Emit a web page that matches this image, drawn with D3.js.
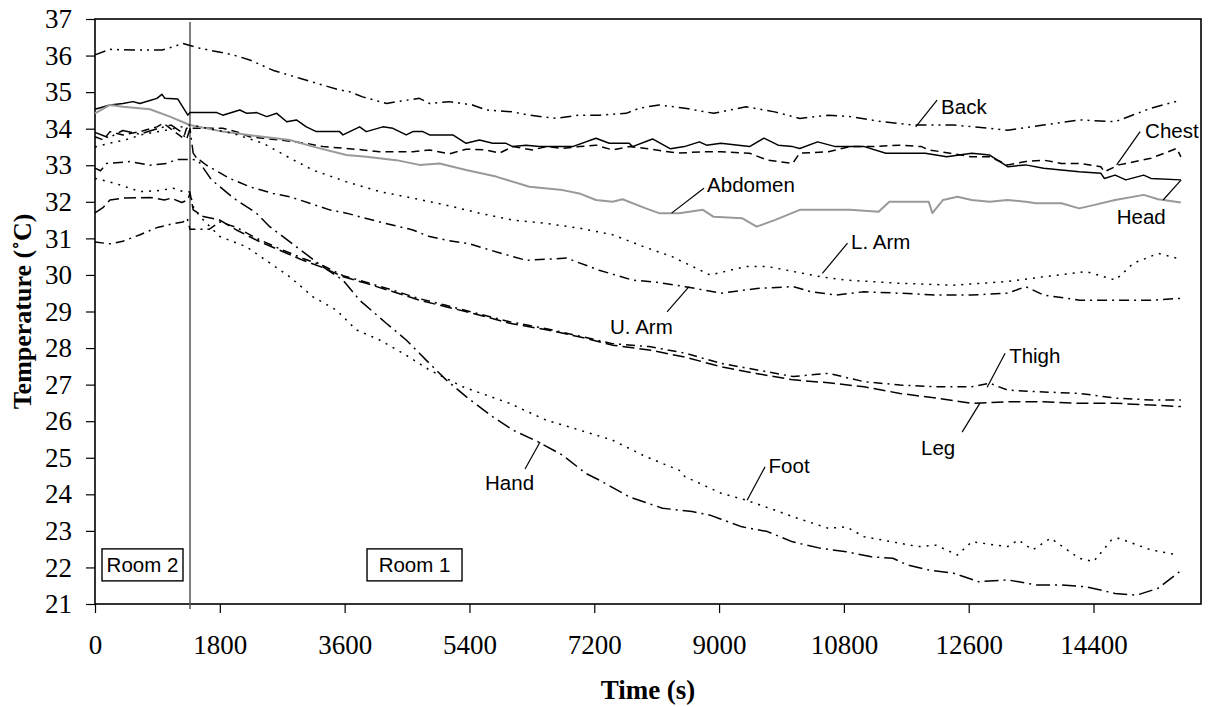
<!DOCTYPE html>
<html>
<head>
<meta charset="utf-8">
<script src="https://cdn.jsdelivr.net/npm/d3@7"></script>
<style>
  body { margin: 0; background: #fff; }
  text { fill: #000; }
</style>
</head>
<body>
<svg id="chart"></svg>
<script>
const width = 1209;
const height = 707;
const margin = { top: 19, right: 8, bottom: 103, left: 95 };

// time (s), temperature (deg C)
const back = [[0,36.02],[216,36.17],[547,36.15],[965,36.15],[1123,36.24],[1267,36.33],[1512,36.2],[1987,36.02],[2232,35.88],[2563,35.6],[2952,35.38],[3197,35.24],[3528,35.06],[3672,35.01],[3859,34.87],[4205,34.69],[4493,34.78],[4680,34.83],[4824,34.69],[5112,34.74],[5443,34.65],[5645,34.51],[6019,34.46],[6264,34.37],[6653,34.28],[6984,34.37],[7272,34.37],[7661,34.42],[7848,34.56],[8136,34.65],[8510,34.56],[8922,34.42],[9389,34.6],[9801,34.46],[10164,34.28],[10577,34.37],[10887,34.33],[11352,34.19],[11809,34.1],[12384,34.1],[12902,34.01],[13162,33.96],[13677,34.1],[14194,34.24],[14711,34.19],[15228,34.56],[15660,34.78]];
const head = [[0,34.53],[216,34.65],[403,34.69],[547,34.74],[648,34.69],[792,34.77],[893,34.83],[965,34.94],[1008,34.83],[1195,34.81],[1339,34.37],[1368,34.44],[1757,34.44],[1843,34.37],[2088,34.51],[2189,34.42],[2333,34.44],[2477,34.33],[2621,34.42],[2765,34.19],[2904,34.24],[3048,34.05],[3192,33.92],[3528,33.92],[3576,33.83],[3816,34.05],[3912,33.92],[4152,34.05],[4296,34.01],[4488,33.83],[4584,33.92],[4728,33.92],[4824,33.83],[5160,33.83],[5352,33.6],[5544,33.69],[5736,33.6],[5928,33.6],[6024,33.51],[6216,33.55],[6408,33.51],[6888,33.51],[7224,33.74],[7416,33.6],[7704,33.6],[7752,33.51],[8040,33.72],[8300,33.45],[8500,33.51],[8716,33.64],[8819,33.55],[9026,33.6],[9439,33.51],[9647,33.74],[9852,33.55],[10060,33.51],[10164,33.46],[10421,33.64],[10679,33.51],[11094,33.51],[11405,33.33],[11972,33.33],[12283,33.23],[12643,33.33],[12902,33.28],[13162,32.96],[13421,33.01],[13680,32.92],[13936,32.87],[14194,32.82],[14505,32.78],[14556,32.64],[14711,32.73],[14867,32.6],[15124,32.73],[15228,32.64],[15660,32.6]];
const chest = [[0,33.78],[120,33.69],[216,33.92],[403,33.83],[648,33.92],[893,34.05],[987,34.15],[1180,33.87],[1276,33.74],[1320,34.01],[1469,34.01],[1843,34.01],[2035,33.92],[2232,33.78],[2419,33.74],[2664,33.69],[3048,33.6],[3288,33.51],[3624,33.46],[3864,33.42],[4104,33.37],[4584,33.37],[4824,33.42],[5112,33.31],[5352,33.44],[5640,33.42],[5832,33.33],[6024,33.51],[6312,33.42],[6504,33.51],[6744,33.46],[6984,33.51],[7224,33.55],[7464,33.42],[7704,33.51],[7944,33.46],[8405,33.33],[8767,33.37],[9026,33.37],[9439,33.33],[9698,33.14],[10060,33.05],[10164,33.33],[10577,33.37],[10887,33.51],[11196,33.51],[11611,33.55],[11920,33.51],[12024,33.42],[12334,33.33],[12643,33.23],[12902,33.23],[13162,33.01],[13421,33.1],[13680,33.14],[13936,33.05],[14194,33.05],[14505,32.96],[14556,32.82],[14763,33.01],[15228,33.19],[15600,33.46],[15660,33.23]];
const abdomen = [[0,34.42],[216,34.65],[403,34.6],[792,34.53],[1080,34.33],[1368,34.1],[1843,33.92],[2333,33.8],[2808,33.69],[3144,33.51],[3624,33.28],[3912,33.23],[4344,33.14],[4680,33.01],[4968,33.05],[5352,32.87],[5784,32.69],[6264,32.41],[6744,32.32],[6984,32.23],[7224,32.05],[7464,32.0],[7608,32.07],[7944,31.82],[8136,31.69],[8424,31.69],[8767,31.78],[8922,31.59],[9336,31.55],[9543,31.32],[9801,31.5],[10164,31.78],[10473,31.78],[10887,31.78],[11300,31.73],[11455,32.0],[12024,32.0],[12076,31.69],[12230,32.05],[12437,32.14],[12643,32.05],[12902,32.0],[13162,32.05],[13421,32.0],[13575,31.96],[13936,31.96],[14194,31.82],[14400,31.91],[14711,32.05],[15124,32.19],[15332,32.07],[15660,31.98]];
const lArm = [[0,33.5],[200,33.6],[450,33.7],[700,33.85],[1000,33.95],[1250,34.05],[1370,34.1],[1650,34.0],[1992,33.87],[2424,33.6],[2664,33.35],[2808,33.2],[3139,32.87],[3624,32.55],[4104,32.28],[4584,32.1],[5064,31.91],[5544,31.69],[6024,31.5],[6504,31.41],[6984,31.28],[7464,31.1],[7944,30.75],[8323,30.5],[8870,30.0],[9389,30.23],[9698,30.23],[10469,29.95],[10829,29.86],[11606,29.77],[12384,29.72],[13162,29.82],[13680,29.95],[14299,30.09],[14717,29.86],[14976,30.32],[15336,30.59],[15620,30.45]];
const uArm = [[0,32.92],[80,32.85],[168,33.05],[504,33.1],[792,33.0],[1032,33.05],[1176,33.16],[1368,33.16],[1512,33.14],[1608,33.0],[1944,32.64],[2232,32.41],[2568,32.23],[2808,32.14],[3096,31.96],[3384,31.78],[3624,31.69],[4104,31.45],[4584,31.23],[4824,31.05],[5069,30.95],[5400,30.85],[5840,30.6],[6220,30.4],[6800,30.46],[7270,30.13],[7750,29.86],[8100,29.8],[8510,29.68],[9029,29.5],[9547,29.63],[10066,29.68],[10325,29.54],[10685,29.45],[11088,29.54],[11606,29.5],[12125,29.45],[12643,29.45],[13162,29.5],[13421,29.68],[13680,29.45],[14198,29.31],[14717,29.31],[15235,29.31],[15660,29.36]];
const thigh = [[0,30.9],[216,30.85],[400,30.92],[650,31.1],[900,31.3],[1128,31.4],[1270,31.45],[1330,31.55],[1370,31.25],[1650,31.25],[1800,31.45],[2040,31.3],[2330,31.0],[2660,30.72],[3000,30.45],[3290,30.25],[3580,29.98],[3910,29.8],[4300,29.58],[4680,29.35],[5060,29.17],[5450,28.98],[5980,28.72],[6510,28.53],[6980,28.33],[7460,28.12],[7990,28.04],[8510,27.86],[9030,27.58],[9550,27.4],[10070,27.22],[10580,27.31],[11090,27.08],[11610,26.99],[12130,26.94],[12640,26.94],[12900,27.04],[13160,26.85],[13680,26.8],[14200,26.76],[14720,26.63],[15230,26.58],[15660,26.58]];
const leg = [[0,31.7],[120,31.85],[216,32.05],[400,32.1],[800,32.12],[1000,32.05],[1100,32.1],[1250,31.98],[1340,32.05],[1370,32.25],[1416,31.78],[1560,31.6],[1800,31.5],[2040,31.23],[2330,30.95],[2660,30.68],[3000,30.4],[3290,30.2],[3580,29.95],[3910,29.77],[4300,29.54],[4680,29.31],[5060,29.13],[5450,28.95],[5980,28.68],[6510,28.5],[6980,28.31],[7460,28.08],[7990,27.95],[8510,27.75],[9030,27.49],[9550,27.3],[10070,27.13],[10580,27.05],[11090,26.94],[11610,26.76],[12130,26.63],[12640,26.49],[13160,26.53],[13680,26.53],[14200,26.49],[14720,26.49],[15230,26.44],[15660,26.4]];
const hand = [[0,33.9],[200,33.75],[400,33.95],[650,33.85],[900,34.0],[1100,34.1],[1250,33.9],[1320,33.7],[1370,34.0],[1416,33.33],[1680,32.6],[2000,32.1],[2328,31.69],[2520,31.32],[2904,30.77],[3288,30.22],[3576,29.86],[3816,29.31],[4200,28.68],[4488,28.22],[4776,27.67],[5064,27.13],[5352,26.67],[5736,26.12],[6024,25.76],[6384,25.44],[6744,25.07],[7080,24.57],[7272,24.39],[7704,23.93],[8184,23.62],[8611,23.53],[8870,23.43],[9029,23.32],[9331,23.11],[9698,22.98],[10060,22.7],[10473,22.52],[10835,22.43],[11196,22.29],[11506,22.25],[11713,22.07],[12024,21.93],[12384,21.84],[12744,21.61],[13162,21.66],[13575,21.52],[13936,21.52],[14299,21.47],[14711,21.29],[15019,21.24],[15332,21.43],[15638,21.88]];
const foot = [[0,32.64],[300,32.5],[648,32.28],[900,32.3],[1128,32.37],[1272,32.28],[1368,32.27],[1416,31.87],[1512,31.6],[1800,31.05],[2184,30.77],[2808,29.95],[3144,29.4],[3480,29.04],[3768,28.5],[4104,28.22],[4440,27.86],[4824,27.4],[5304,26.94],[5976,26.49],[6504,26.03],[6984,25.76],[7464,25.48],[7944,25.03],[8424,24.66],[8510,24.48],[9029,24.03],[9389,23.84],[9801,23.57],[10060,23.39],[10577,23.07],[10835,23.11],[11094,22.84],[11611,22.66],[11869,22.57],[12128,22.61],[12437,22.34],[12643,22.7],[13162,22.57],[13316,22.75],[13522,22.48],[13781,22.8],[14194,22.25],[14400,22.16],[14659,22.75],[14760,22.8],[15228,22.48],[15620,22.34]];

const xTicks = [0, 1800, 3600, 5400, 7200, 9000, 10800, 12600, 14400];
const yTicks = d3.range(21, 38);
const roomChange = 1370;

const series = [
  { name: "Back", data: back, dash: "11,5,2,5,2,5", color: "#000", w: 1.5 },
  { name: "Chest", data: chest, dash: "8,5", color: "#000", w: 1.5 },
  { name: "Head", data: head, dash: null, color: "#000", w: 1.5 },
  { name: "Abdomen", data: abdomen, dash: null, color: "#999", w: 2 },
  { name: "L. Arm", data: lArm, dash: "2,6", color: "#000", w: 1.5 },
  { name: "U. Arm", data: uArm, dash: "10,5,2,5", color: "#000", w: 1.5 },
  { name: "Thigh", data: thigh, dash: "9,5,2,5", color: "#000", w: 1.5 },
  { name: "Leg", data: leg, dash: "12,5", color: "#000", w: 1.5 },
  { name: "Hand", data: hand, dash: "14,5,2,5", color: "#000", w: 1.5 },
  { name: "Foot", data: foot, dash: "2,6", color: "#000", w: 1.5 }
];

// label text anchor (left, middle) and pointer from line point to label
const callouts = [
  { text: "Back", at: [12202, 34.62], from: [11836, 34.05], to: [12144, 34.78] },
  { text: "Chest", at: [15144, 33.96], from: [14734, 33.01], to: [15072, 33.92] },
  { text: "Abdomen", at: [8827, 32.46], from: [8315, 31.69], to: [8781, 32.37] },
  { text: "Head", at: [14734, 31.59], from: [15664, 32.6], to: [15404, 32.05] },
  { text: "L. Arm", at: [10904, 30.91], from: [10490, 30.04], to: [10852, 30.87] },
  { text: "U. Arm", at: [7428, 28.58], from: [8567, 29.68], to: [8250, 28.99] },
  { text: "Thigh", at: [13183, 27.81], from: [12866, 26.93], to: [13125, 27.86] },
  { text: "Leg", at: [11913, 25.27], from: [12764, 26.5], to: [12505, 25.7] },
  { text: "Hand", at: [5625, 24.31], from: [6418, 25.43], to: [6202, 24.69] },
  { text: "Foot", at: [9714, 24.8], from: [9404, 23.84], to: [9663, 24.75] }
];

const rooms = [
  { text: "Room 2", center: [685, 22.07], w: 81 },
  { text: "Room 1", center: [4608, 22.07], w: 95 }
];

const svg = d3.select("#chart").attr("width", width).attr("height", height);

const x = d3.scaleLinear().domain([0, 15950]).range([margin.left, width - margin.right]);
const y = d3.scaleLinear().domain([21, 37]).range([height - margin.bottom, margin.top]);

// axes
const yAxis = svg.append("g")
  .attr("transform", `translate(${margin.left},0)`)
  .call(d3.axisLeft(y).tickValues(yTicks).tickSize(9).tickPadding(14).tickFormat(d3.format("d")));
const xAxis = svg.append("g")
  .attr("transform", `translate(0,${height - margin.bottom})`)
  .call(d3.axisBottom(x).tickValues(xTicks).tickSize(9).tickPadding(22).tickFormat(d3.format("d")));

[yAxis, xAxis].forEach((g) => {
  g.select(".domain").remove();
  g.selectAll(".tick line").attr("stroke", "#000").attr("stroke-width", 1.2);
  g.selectAll(".tick text")
    .attr("font-family", "'Liberation Serif', 'Times New Roman', serif")
    .attr("font-size", 27)
    .attr("fill", "#000");
});

// plot frame
svg.append("rect")
  .attr("x", x(0))
  .attr("y", y(37))
  .attr("width", x.range()[1] - x(0))
  .attr("height", y(21) - y(37))
  .attr("fill", "none")
  .attr("stroke", "#000")
  .attr("stroke-width", 1.6);

// room change line
svg.append("line")
  .attr("x1", x(roomChange)).attr("x2", x(roomChange))
  .attr("y1", y(37) + 3).attr("y2", y(21) + 5)
  .attr("stroke", "#555")
  .attr("stroke-width", 1.5);

const line = d3.line().x((d) => x(d[0])).y((d) => y(d[1]));

svg.append("g")
  .selectAll("path")
  .data(series)
  .enter()
  .append("path")
  .attr("d", (d) => line(d.data))
  .attr("fill", "none")
  .attr("stroke", (d) => d.color)
  .attr("stroke-width", (d) => d.w)
  .attr("stroke-dasharray", (d) => d.dash)
  .attr("stroke-linejoin", "round");

// callouts
const sans = "'Liberation Sans', Arial, sans-serif";
const co = svg.append("g");
co.selectAll("line")
  .data(callouts)
  .enter()
  .append("line")
  .attr("x1", (d) => x(d.from[0])).attr("y1", (d) => y(d.from[1]))
  .attr("x2", (d) => x(d.to[0])).attr("y2", (d) => y(d.to[1]))
  .attr("stroke", "#000")
  .attr("stroke-width", 1.2);
co.selectAll("text")
  .data(callouts)
  .enter()
  .append("text")
  .attr("x", (d) => x(d.at[0]))
  .attr("y", (d) => y(d.at[1]))
  .attr("dominant-baseline", "central")
  .attr("font-family", sans)
  .attr("font-size", 20.5)
  .text((d) => d.text);

// room boxes
const rb = svg.append("g").selectAll("g").data(rooms).enter().append("g");
rb.append("rect")
  .attr("x", (d) => x(d.center[0]) - d.w / 2)
  .attr("y", (d) => y(d.center[1]) - 16)
  .attr("width", (d) => d.w)
  .attr("height", 32)
  .attr("fill", "#fff")
  .attr("stroke", "#000")
  .attr("stroke-width", 1.4);
rb.append("text")
  .attr("x", (d) => x(d.center[0]))
  .attr("y", (d) => y(d.center[1]))
  .attr("text-anchor", "middle")
  .attr("dominant-baseline", "central")
  .attr("font-family", sans)
  .attr("font-size", 20.5)
  .text((d) => d.text);

// axis titles
const serif = "'Liberation Serif', 'Times New Roman', serif";
svg.append("text")
  .attr("x", 648)
  .attr("y", 690)
  .attr("text-anchor", "middle")
  .attr("dominant-baseline", "central")
  .attr("font-family", serif)
  .attr("font-weight", "bold")
  .attr("font-size", 27)
  .text("Time (s)");

svg.append("text")
  .attr("transform", `translate(22,${(y(21) + y(37)) / 2}) rotate(-90)`)
  .attr("text-anchor", "middle")
  .attr("dominant-baseline", "central")
  .attr("font-family", serif)
  .attr("font-weight", "bold")
  .attr("font-size", 26)
  .text("Temperature (˚C)");
</script>
</body>
</html>
